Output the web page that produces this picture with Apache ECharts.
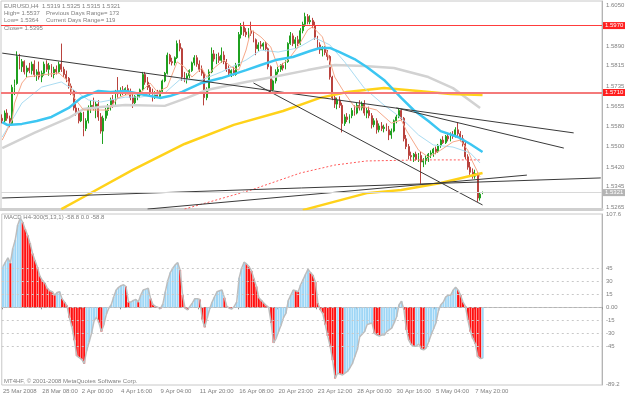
<!DOCTYPE html>
<html lang="en">
<head>
<meta charset="UTF-8">
<script src="https://cdn.jsdelivr.net/npm/echarts@6/dist/echarts.min.js"></script>
<style>
  html, body { margin: 0; padding: 0; background: #fff; }
  #chart { width: 625px; height: 397px; }
</style>
</head>
<body>
<div id="chart"></div>
<script>
// EURUSD H4 bars: [open, high, low, close]
const candles = [
  [1.5610,1.5625,1.5590,1.5600],[1.5600,1.5640,1.5595,1.5630],[1.5630,1.5645,1.5600,1.5610],[1.5610,1.5620,1.5575,1.5590],
  [1.5590,1.5740,1.5585,1.5730],[1.5730,1.5760,1.5700,1.5745],[1.5745,1.5870,1.5740,1.5850],[1.5850,1.5860,1.5800,1.5810],
  [1.5810,1.5840,1.5790,1.5830],[1.5830,1.5835,1.5780,1.5790],[1.5790,1.5815,1.5770,1.5805],[1.5805,1.5825,1.5785,1.5795],
  [1.5795,1.5830,1.5780,1.5820],[1.5820,1.5835,1.5770,1.5780],[1.5780,1.5800,1.5755,1.5790],[1.5790,1.5830,1.5760,1.5770],
  [1.5770,1.5795,1.5750,1.5785],[1.5785,1.5830,1.5775,1.5820],[1.5820,1.5835,1.5790,1.5800],[1.5800,1.5825,1.5775,1.5815],
  [1.5815,1.5820,1.5770,1.5780],[1.5780,1.5810,1.5765,1.5800],[1.5800,1.5815,1.5780,1.5790],[1.5790,1.5830,1.5785,1.5820],
  [1.5820,1.5900,1.5790,1.5800],[1.5800,1.5810,1.5770,1.5780],[1.5780,1.5795,1.5750,1.5765],[1.5765,1.5770,1.5725,1.5735],
  [1.5735,1.5745,1.5700,1.5715],[1.5715,1.5720,1.5640,1.5650],[1.5650,1.5665,1.5620,1.5635],[1.5635,1.5650,1.5590,1.5600],
  [1.5600,1.5640,1.5595,1.5630],[1.5630,1.5635,1.5540,1.5570],[1.5570,1.5610,1.5560,1.5600],[1.5600,1.5660,1.5590,1.5650],
  [1.5650,1.5680,1.5630,1.5660],[1.5660,1.5690,1.5640,1.5650],[1.5650,1.5675,1.5610,1.5665],[1.5665,1.5680,1.5600,1.5615],
  [1.5615,1.5630,1.5550,1.5560],[1.5560,1.5620,1.5510,1.5610],[1.5610,1.5650,1.5600,1.5640],[1.5640,1.5665,1.5620,1.5655],
  [1.5655,1.5690,1.5640,1.5680],[1.5680,1.5700,1.5650,1.5665],[1.5665,1.5720,1.5660,1.5710],[1.5710,1.5770,1.5690,1.5705],
  [1.5705,1.5730,1.5695,1.5720],[1.5720,1.5735,1.5700,1.5710],[1.5710,1.5730,1.5700,1.5725],[1.5725,1.5740,1.5705,1.5715],
  [1.5715,1.5725,1.5680,1.5690],[1.5690,1.5705,1.5650,1.5670],[1.5670,1.5700,1.5660,1.5695],[1.5695,1.5710,1.5680,1.5700],
  [1.5700,1.5725,1.5690,1.5720],[1.5720,1.5790,1.5715,1.5780],[1.5780,1.5790,1.5740,1.5750],[1.5750,1.5770,1.5720,1.5730],
  [1.5730,1.5740,1.5700,1.5710],[1.5710,1.5725,1.5675,1.5690],[1.5690,1.5715,1.5685,1.5705],[1.5705,1.5720,1.5690,1.5695],
  [1.5695,1.5720,1.5690,1.5715],[1.5715,1.5760,1.5710,1.5755],[1.5755,1.5790,1.5750,1.5785],[1.5785,1.5865,1.5780,1.5855],
  [1.5855,1.5860,1.5820,1.5830],[1.5830,1.5845,1.5815,1.5825],[1.5825,1.5850,1.5815,1.5845],[1.5845,1.5912,1.5840,1.5900],
  [1.5900,1.5915,1.5870,1.5880],[1.5880,1.5885,1.5755,1.5770],[1.5770,1.5790,1.5750,1.5765],[1.5765,1.5785,1.5745,1.5775],
  [1.5775,1.5800,1.5765,1.5795],[1.5795,1.5830,1.5790,1.5825],[1.5825,1.5855,1.5815,1.5845],[1.5845,1.5855,1.5810,1.5820],
  [1.5820,1.5835,1.5790,1.5800],[1.5800,1.5815,1.5775,1.5785],[1.5785,1.5790,1.5660,1.5690],[1.5690,1.5730,1.5680,1.5720],
  [1.5720,1.5800,1.5715,1.5790],[1.5790,1.5885,1.5785,1.5860],[1.5860,1.5875,1.5830,1.5840],[1.5840,1.5860,1.5820,1.5850],
  [1.5850,1.5865,1.5825,1.5835],[1.5835,1.5885,1.5825,1.5855],[1.5855,1.5870,1.5820,1.5830],[1.5830,1.5840,1.5790,1.5800],
  [1.5800,1.5815,1.5775,1.5785],[1.5785,1.5800,1.5770,1.5795],[1.5795,1.5810,1.5775,1.5780],[1.5780,1.5825,1.5775,1.5815],
  [1.5815,1.5945,1.5810,1.5935],[1.5935,1.5980,1.5920,1.5965],[1.5965,1.5985,1.5930,1.5945],[1.5945,1.5960,1.5925,1.5935],
  [1.5935,1.5960,1.5920,1.5950],[1.5950,1.5985,1.5930,1.5940],[1.5940,1.5950,1.5905,1.5915],[1.5915,1.5920,1.5855,1.5880],
  [1.5880,1.5905,1.5870,1.5895],[1.5895,1.5910,1.5880,1.5890],[1.5890,1.5905,1.5875,1.5900],[1.5900,1.5910,1.5870,1.5880],
  [1.5880,1.5885,1.5800,1.5810],[1.5810,1.5815,1.5705,1.5720],[1.5720,1.5760,1.5715,1.5755],[1.5755,1.5800,1.5745,1.5790],
  [1.5790,1.5810,1.5780,1.5800],[1.5800,1.5820,1.5790,1.5815],[1.5815,1.5825,1.5795,1.5805],[1.5805,1.5835,1.5800,1.5830],
  [1.5830,1.5905,1.5825,1.5900],[1.5900,1.5945,1.5895,1.5930],[1.5930,1.5940,1.5890,1.5900],[1.5900,1.5925,1.5880,1.5915],
  [1.5915,1.5930,1.5890,1.5900],[1.5900,1.5960,1.5895,1.5950],[1.5950,1.5985,1.5940,1.5975],[1.5975,1.6020,1.5965,1.6005],
  [1.6005,1.6015,1.5975,1.5985],[1.5985,1.6010,1.5975,1.5990],[1.5990,1.6000,1.5960,1.5970],[1.5970,1.5985,1.5915,1.5925],
  [1.5925,1.5930,1.5880,1.5895],[1.5895,1.5905,1.5860,1.5875],[1.5875,1.5890,1.5850,1.5880],[1.5880,1.5890,1.5855,1.5865],
  [1.5865,1.5875,1.5835,1.5850],[1.5850,1.5855,1.5760,1.5770],[1.5770,1.5775,1.5680,1.5690],[1.5690,1.5700,1.5650,1.5665],
  [1.5665,1.5690,1.5645,1.5680],[1.5680,1.5695,1.5650,1.5660],[1.5660,1.5670,1.5555,1.5590],[1.5590,1.5625,1.5580,1.5615],
  [1.5615,1.5630,1.5595,1.5605],[1.5605,1.5625,1.5590,1.5620],[1.5620,1.5650,1.5610,1.5640],[1.5640,1.5660,1.5620,1.5630],
  [1.5630,1.5670,1.5625,1.5660],[1.5660,1.5680,1.5640,1.5650],[1.5650,1.5675,1.5640,1.5665],[1.5665,1.5680,1.5620,1.5630],
  [1.5630,1.5650,1.5610,1.5640],[1.5640,1.5655,1.5610,1.5620],[1.5620,1.5630,1.5570,1.5585],[1.5585,1.5610,1.5575,1.5600],
  [1.5600,1.5610,1.5550,1.5565],[1.5565,1.5590,1.5555,1.5580],[1.5580,1.5595,1.5560,1.5570],[1.5570,1.5585,1.5555,1.5575],
  [1.5575,1.5590,1.5560,1.5565],[1.5565,1.5580,1.5525,1.5545],[1.5545,1.5570,1.5530,1.5560],[1.5560,1.5605,1.5555,1.5600],
  [1.5600,1.5625,1.5590,1.5615],[1.5615,1.5650,1.5610,1.5640],[1.5640,1.5645,1.5600,1.5610],[1.5610,1.5615,1.5520,1.5530],
  [1.5530,1.5545,1.5490,1.5500],[1.5500,1.5510,1.5450,1.5465],[1.5465,1.5480,1.5445,1.5460],[1.5460,1.5475,1.5440,1.5470],
  [1.5470,1.5480,1.5445,1.5450],[1.5450,1.5475,1.5440,1.5465],[1.5465,1.5480,1.5355,1.5440],[1.5440,1.5455,1.5420,1.5445],
  [1.5445,1.5465,1.5430,1.5455],[1.5455,1.5475,1.5440,1.5470],[1.5470,1.5485,1.5455,1.5475],[1.5475,1.5495,1.5460,1.5490],
  [1.5490,1.5500,1.5470,1.5480],[1.5480,1.5510,1.5475,1.5505],[1.5505,1.5530,1.5495,1.5525],[1.5525,1.5540,1.5510,1.5515],
  [1.5515,1.5545,1.5510,1.5540],[1.5540,1.5550,1.5520,1.5530],[1.5530,1.5555,1.5520,1.5545],[1.5545,1.5560,1.5530,1.5540],
  [1.5540,1.5575,1.5535,1.5565],[1.5565,1.5595,1.5540,1.5550],[1.5550,1.5560,1.5520,1.5530],[1.5530,1.5545,1.5500,1.5510],
  [1.5510,1.5520,1.5450,1.5460],[1.5460,1.5470,1.5410,1.5420],[1.5420,1.5440,1.5390,1.5400],[1.5400,1.5415,1.5375,1.5385],
  [1.5385,1.5410,1.5375,1.5395],[1.5395,1.5400,1.5285,1.5300],[1.5300,1.5320,1.5290,1.5315],[1.5319,1.5325,1.5315,1.5321]
];

// MACD H4-300(5,13,1), one value per bar
const macd = [
  47,52,57,51,68,78,95,103,98,90,83,74,62,54,46,36,31,28,22,19,
  18,14,17,18,10,6,2,-12,-22,-38,-56,-58,-60,-65,-50,-40,-30,-16,-11,-18,
  -28,-20,-8,-1,3,12,20,23,25,26,24,6,6,8,9,6,14,20,21,22,
  10,3,1,0,-1.5,4,18,31,40,45,49,51.5,43,14,-1,-3,1,5,10,10,
  9,-14,-23,-12,-2,6,12,18,19,20,11,1,-1,-2,1,6,34,45,52,50,
  47,42,33,24,11,8,5,2,0,-18,-41,-36,-28,-21,-12,-7,8,14,20,19,
  18,26,32,38,44,40,37,29,5,-3,-7,-20,-33,-45,-61,-82,-76,-77,-78,-76,
  -74,-70,-65,-57,-49,-34,-31,-28,-20,-19,-18,-30,-32,-33,-32,-32,-28,-26,-24,-18,
  -11,3,7,-3,-26,-38,-43,-45,-45,-42,-48,-49,-47,-40,-32,-25,-18,-4,3,6,
  12,14,14,20,23,20,14,6,1,-15,-28,-36,-42,-57,-59,-58.8
];

// moving averages, [bar index, price]
const maBlue = [[0,1.5595],[2,1.5584],[8,1.5588],[14,1.5599],[20,1.5615],[27,1.5650],[32,1.5689],[39,1.5716],
  [44,1.5712],[50,1.5716],[56,1.5704],[64,1.5689],[68,1.5696],[73,1.5712],[81,1.5747],[89,1.5766],[99,1.5797],
  [105,1.5817],[111,1.5836],[118,1.5848],[125,1.5871],[129,1.5883],[133,1.5883],[137,1.5867],[143,1.5840],
  [148,1.5809],[155,1.5759],[162,1.5689],[167,1.5642],[173,1.5599],[178,1.5560],[185,1.5537],[190,1.5510],[195,1.5479]];
const maGray = [[0,1.5494],[13,1.5553],[27,1.5611],[33,1.5646],[40,1.5654],[50,1.5661],[66,1.5658],[75,1.5689],
  [83,1.5720],[99,1.5751],[110,1.5770],[124,1.5797],[135,1.5817],[147,1.5813],[159,1.5805],[173,1.5770],[183,1.5727],[194,1.5650]];
const maYellow = [[24,1.5257],[33,1.5304],[53,1.5409],[74,1.5510],[94,1.5584],[114,1.5638],[129,1.5689],[140,1.5712],
  [155,1.5727],[169,1.5716],[182,1.5704],[195,1.5700]];
const maYellow2 = [[122,1.5253],[148,1.5319],[162,1.5331],[178,1.5358],[195,1.5397]];
const maSalmon = [[0,1.5525],[4,1.5603],[5,1.5669],[8,1.5747],[10,1.5770],[16,1.5778],[23,1.5786],[27,1.5751],
  [29,1.5692],[33,1.5642],[40,1.5642],[43,1.5642],[47,1.5689],[50,1.5700],[56,1.5708],[60,1.5747],[63,1.5712],
  [67,1.5731],[71,1.5829],[74,1.5809],[77,1.5770],[81,1.5805],[83,1.5770],[86,1.5805],[90,1.5836],[93,1.5809],
  [96,1.5797],[99,1.5875],[101,1.5953],[105,1.5926],[109,1.5887],[112,1.5809],[116,1.5836],[120,1.5887],
  [124,1.5953],[126,1.5965],[130,1.5926],[132,1.5863],[135,1.5770],[139,1.5708],[143,1.5654],[147,1.5654],
  [152,1.5642],[158,1.5591],[162,1.5603],[164,1.5564],[169,1.5486],[173,1.5459],[178,1.5486],[183,1.5518],
  [186,1.5525],[189,1.5486],[191,1.5440],[194,1.5382]];
const maLight = [[0,1.5537],[8,1.5669],[16,1.5731],[24,1.5751],[29,1.5720],[35,1.5681],[40,1.5673],[50,1.5692],
  [56,1.5692],[66,1.5708],[72,1.5759],[81,1.5759],[89,1.5790],[99,1.5836],[105,1.5875],[112,1.5867],[120,1.5883],
  [127,1.5922],[133,1.5895],[139,1.5829],[147,1.5727],[155,1.5661],[162,1.5611],[169,1.5545],[175,1.5506],
  [183,1.5498],[190,1.5475],[194,1.5436]];
const maRedDot = [[74,1.5257],[101,1.5331],[121,1.5397],[135,1.5428],[148,1.5444],[170,1.5448],[194,1.5448]];

// drawn trend lines, [bar index, price] end points
const trendLines = [
  [[0,1.5863],[232,1.5553]],
  [[160,1.5650],[228,1.5494]],
  [[102,1.5747],[195,1.5273]],
  [[0,1.5300],[243,1.5378]],
  [[59,1.5257],[213,1.5389]]
];

const priceTicks = [1.6050,1.5890,1.5815,1.5735,1.5655,1.5580,1.5500,1.5420,1.5345,1.5265];
const priceTickText = ['1.6050','1.5890','1.5815','1.5735','1.5655','1.5580','1.5500','1.5420','1.5345','1.5265'];
const levelPrices = [1.5970, 1.5710, 1.5321];
const levelText = ['1.5970', '1.5710', '1.5321'];
const macdLevels = [45,30,15,0,-15,-30,-45];
const macdLevelText = ['45','30','15','0.00','-15','-30','-45'];
const macdEnds = [107.6,-89.2];
const timeLabels = ['25 Mar 2008','28 Mar 08:00','2 Apr 00:00','4 Apr 16:00','9 Apr 04:00','11 Apr 20:00',
  '16 Apr 08:00','20 Apr 23:00','23 Apr 12:00','28 Apr 00:00','30 Apr 16:00','5 May 04:00','7 May 20:00'];

const N = 244;
const cats = [];
for (let i = 0; i < N; i++) cats.push(i % 16 === 0 && timeLabels[i / 16] ? timeLabels[i / 16] : '');

const font = 'Liberation Sans';
const txt = '#808080';
const clear = 'rgba(0,0,0,0)';
const myChart = echarts.init(document.getElementById('chart'));

function lineSeries(data, color, width, extra) {
  return Object.assign({
    type: 'line', xAxisIndex: 0, yAxisIndex: 0, data: data, symbol: 'none', silent: true,
    lineStyle: { color: color, width: width }, z: 3
  }, extra || {});
}

const series = [
  lineSeries(maGray, '#d2d2d2', 2.5),
  lineSeries(maYellow, '#ffd21a', 2.5),
  lineSeries(maYellow2, '#ffd21a', 2.5),
  lineSeries(maLight, '#aadcf2', 1),
  lineSeries(maSalmon, '#f6a98a', 1),
  lineSeries(maRedDot, '#ff5a5a', 1, { lineStyle: { color: '#ff5a5a', width: 1, type: [2, 2] } }),
  lineSeries(maBlue, '#3cc6f2', 2.5),
  {
    type: 'candlestick', xAxisIndex: 0, yAxisIndex: 0, barWidth: 1.4, z: 2, silent: true,
    data: candles.map(c => [c[0], c[3], c[2], c[1]]),
    itemStyle: { color: '#1fa01f', color0: '#b9433e', borderColor: '#1fa01f', borderColor0: '#b9433e', borderWidth: 1 }
  }
];
trendLines.forEach(t => series.push(lineSeries(t, '#3a3a3a', 1, { z: 4 })));

// right-hand price labels
series.push({
  type: 'line', xAxisIndex: 0, yAxisIndex: 0, data: [], z: 5,
  markLine: {
    silent: true, symbol: 'none', animation: false, precision: 5,
    label: { position: 'end', distance: 4, color: txt, fontSize: 6, fontFamily: font, formatter: p => p.name },
    lineStyle: { color: clear, width: 0 },
    data: priceTicks.map((v, k) => ({ name: priceTickText[k], yAxis: v }))
  }
});
// price levels with boxed labels
const levelStyles = [
  { line: { color: '#ff3c3c', width: 1 }, box: '#ff2020' },
  { line: { color: '#f47a7a', width: 2 }, box: '#ff2020' },
  { line: { color: '#d8d8d8', width: 1 }, box: '#b4b4b4' }
];
series.push({
  type: 'line', xAxisIndex: 0, yAxisIndex: 0, data: [], z: 6,
  markLine: {
    silent: true, symbol: 'none', animation: false, precision: 5,
    label: { position: 'end', distance: 1, color: '#fff', fontSize: 6, fontFamily: font, padding: [1, 2, 0, 2], formatter: p => p.name },
    data: levelPrices.map((v, k) => ({
      name: levelText[k], yAxis: v,
      lineStyle: Object.assign({ type: 'solid' }, levelStyles[k].line),
      label: { backgroundColor: levelStyles[k].box }
    }))
  }
});

// MACD window
series.push({
  type: 'bar', xAxisIndex: 1, yAxisIndex: 1, barWidth: 2, silent: true,
  data: macd.map((v, i) => ({
    value: v,
    itemStyle: { color: i > 0 && v < macd[i - 1] ? '#ff1010' : '#9ed6f6' }
  }))
});
series.push({
  type: 'line', xAxisIndex: 1, yAxisIndex: 1, data: macd, symbol: 'none', silent: true, z: 3,
  lineStyle: { color: '#bdbdbd', width: 1.5 }
});
series.push({
  type: 'line', xAxisIndex: 1, yAxisIndex: 1, data: [], z: 1,
  markLine: {
    silent: true, symbol: 'none', animation: false, precision: 2,
    label: { position: 'end', distance: 4, color: txt, fontSize: 6, fontFamily: font, formatter: p => p.name },
    lineStyle: { color: '#c8c8c8', width: 1, type: [2, 3] },
    data: macdLevels.map((v, k) => ({ name: macdLevelText[k], yAxis: v }))
      .concat(macdEnds.map(v => ({ name: String(v), yAxis: v, lineStyle: { color: clear, width: 0 } })))
  }
});

const headStyle = { fill: txt, fontSize: 6, fontFamily: font };
const option = {
  animation: false,
  backgroundColor: '#ffffff',
  textStyle: { fontFamily: font },
  grid: [
    { left: 1, top: 1, width: 601, height: 208, show: true, borderColor: '#c8c8c8', borderWidth: 1 },
    { left: 1, top: 214, width: 601, height: 171, show: true, borderColor: '#c8c8c8', borderWidth: 1 }
  ],
  xAxis: [
    {
      type: 'category', gridIndex: 0, data: cats,
      axisLine: { show: true, lineStyle: { color: '#cfcfcf', width: 3 } },
      axisTick: { show: false }, axisLabel: { show: false }, splitLine: { show: false }
    },
    {
      type: 'category', gridIndex: 1, data: cats,
      axisLine: { show: true, lineStyle: { color: '#b4b4b4' } },
      axisTick: { show: true, length: 2, interval: (i, v) => v !== '', lineStyle: { color: '#909090' } },
      axisLabel: { interval: (i, v) => v !== '', align: 'left', fontSize: 6, color: txt, margin: 3, fontFamily: font },
      splitLine: { show: false }
    }
  ],
  yAxis: [
    {
      type: 'value', gridIndex: 0, position: 'right', min: 1.52573, max: 1.60655,
      axisLine: { show: true, lineStyle: { color: '#b4b4b4' } },
      axisTick: { show: false }, axisLabel: { show: false }, splitLine: { show: false }
    },
    {
      type: 'value', gridIndex: 1, position: 'right', min: -89.6, max: 107.6,
      axisLine: { show: true, lineStyle: { color: '#b4b4b4' } },
      axisTick: { show: false }, axisLabel: { show: false }, splitLine: { show: false }
    }
  ],
  graphic: [
    { type: 'text', left: 4, top: 3, style: Object.assign({ text: 'EURUSD,H4  1.5319 1.5325 1.5315 1.5321' }, headStyle) },
    { type: 'text', left: 4, top: 10, style: Object.assign({ text: 'High= 1.5537' }, headStyle) },
    { type: 'text', left: 46, top: 10, style: Object.assign({ text: 'Previous Days Range= 173' }, headStyle) },
    { type: 'text', left: 4, top: 17, style: Object.assign({ text: 'Low= 1.5364' }, headStyle) },
    { type: 'text', left: 46, top: 17, style: Object.assign({ text: 'Current Days Range= 119' }, headStyle) },
    { type: 'text', left: 4, top: 25, style: Object.assign({ text: 'Close= 1.5395' }, headStyle) },
    { type: 'text', left: 4, top: 214, style: Object.assign({ text: 'MACD H4-300(5,13,1) -58.8 0.0 -58.8' }, headStyle) },
    { type: 'text', left: 4, top: 378, style: Object.assign({ text: 'MT4HF, \u00a9 2001-2008 MetaQuotes Software Corp.' }, headStyle) }
  ],
  series: series
};
myChart.setOption(option);
</script>
</body>
</html>
